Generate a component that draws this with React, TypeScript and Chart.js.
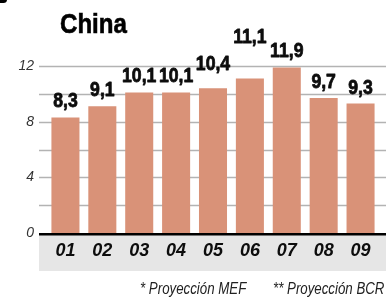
import React, { useEffect, useRef } from "react";
import { Chart, registerables } from "chart.js";

Chart.register(...registerables);

const categories = ["01", "02", "03", "04", "05", "06", "07", "08", "09"];
const growth = [8.3, 9.1, 10.1, 10.1, 10.4, 11.1, 11.9, 9.7, 9.3];
const valueLabels = ["8,3", "9,1", "10,1", "10,1", "10,4", "11,1", "11,9", "9,7", "9,3"];
const yTickLabels = [0, 4, 8, 12];
const title = "China";
const footnotes = ["* Proyección MEF", "** Proyección BCR"];

const SANS = "'Liberation Sans', Arial, Helvetica, sans-serif";
const BAR_COLOR = "#d99278";
const LABEL_LIFT = [0, 0, 0, 0, 8, 26, 0, 0, 0];

const backdrop = {
  id: "backdrop",
  beforeDraw(chart: any) {
    const { ctx, chartArea, scales } = chart;
    const y = scales.y;
    const left = chartArea.left - 8;
    const right = chartArea.right + 7;
    ctx.save();
    ctx.fillStyle = "#e6e6e6";
    ctx.fillRect(left, chartArea.bottom + 1, right - left, 37);
    ctx.strokeStyle = "#b3b3b3";
    ctx.lineWidth = 1.4;
    for (let v = 2; v <= 12; v += 2) {
      const py = Math.round(y.getPixelForValue(v)) + 0.5;
      ctx.beginPath();
      ctx.moveTo(left, py);
      ctx.lineTo(right, py);
      ctx.stroke();
    }
    ctx.restore();
  },
  afterDatasetsDraw(chart: any) {
    const { ctx, chartArea } = chart;
    const left = chartArea.left - 8;
    const right = chartArea.right + 7;
    ctx.save();
    ctx.fillStyle = "#000";
    ctx.fillRect(left, chartArea.bottom, right - left, 2.5);
    const meta = chart.getDatasetMeta(0);
    ctx.font = `bold 20.5px ${SANS}`;
    ctx.textAlign = "center";
    ctx.textBaseline = "alphabetic";
    ctx.fillStyle = "#0d0d0d";
    ctx.strokeStyle = "#0d0d0d";
    ctx.lineWidth = 0.8;
    ctx.lineJoin = "round";
    meta.data.forEach((bar: any, i: number) => {
      ctx.save();
      ctx.translate(bar.x, bar.y - 10 - LABEL_LIFT[i]);
      ctx.scale(0.86, 1);
      ctx.fillText(valueLabels[i], 0, 0);
      ctx.strokeText(valueLabels[i], 0, 0);
      ctx.restore();
    });
    ctx.restore();
  },
};

export default function App() {
  const ref = useRef<HTMLCanvasElement | null>(null);
  useEffect(() => {
    document.body.style.margin = "0";
    const chart = new Chart(ref.current as HTMLCanvasElement, {
      type: "bar",
      data: {
        labels: categories,
        datasets: [
          {
            data: growth,
            backgroundColor: BAR_COLOR,
            borderWidth: 0,
            barPercentage: 0.76,
            categoryPercentage: 1,
          },
        ],
      },
      options: {
        animation: false,
        responsive: false,
        devicePixelRatio: 1,
        layout: { padding: { top: 66, right: 8, bottom: 0, left: 0 } },
        plugins: { legend: { display: false }, tooltip: { enabled: false }, title: { display: false } },
        scales: {
          x: {
            grid: { display: false, drawTicks: false },
            border: { display: false },
            ticks: {
              color: "#0d0d0d",
              padding: 7,
              font: { family: SANS, size: 18, weight: "bold", style: "italic" },
              maxRotation: 0,
            },
            afterFit: (s: any) => {
              s.height = 66;
            },
          },
          y: {
            min: 0,
            max: 12,
            grid: { display: false, drawTicks: false },
            border: { display: false },
            afterBuildTicks: (s: any) => {
              s.ticks = yTickLabels.map((v) => ({ value: v }));
            },
            ticks: {
              color: "#333",
              padding: 13,
              font: { family: SANS, size: 14, style: "italic" },
            },
            afterFit: (s: any) => {
              s.width = 47;
            },
          },
        },
      },
      plugins: [backdrop],
    });
    return () => chart.destroy();
  }, []);

  const foot = {
    position: "absolute" as const,
    top: 281,
    fontFamily: SANS,
    fontStyle: "italic",
    fontSize: 16,
    lineHeight: "16px",
    color: "#222",
    whiteSpace: "nowrap" as const,
    transform: "scaleX(0.83)",
    transformOrigin: "left top",
  };

  return (
    <div style={{ position: "fixed", left: 0, top: 0, width: 387, height: 299, background: "#fff", overflow: "hidden" }}>
      <canvas ref={ref} width={387} height={299} style={{ position: "absolute", left: 0, top: 0 }} />
      <div style={{ position: "absolute", left: -4, top: -4, width: 11, height: 7, background: "#000", borderRadius: 4 }} />
      <div
        style={{
          position: "absolute",
          left: 60,
          top: 8.5,
          fontFamily: SANS,
          fontWeight: "bold",
          fontSize: 28,
          lineHeight: "29px",
          color: "#000",
          whiteSpace: "nowrap",
          transform: "scaleX(0.86)",
          transformOrigin: "left top",
          WebkitTextStroke: "0.6px #000",
        }}
      >
        {title}
      </div>
      <div style={{ ...foot, left: 140 }}>{footnotes[0]}</div>
      <div style={{ ...foot, left: 273 }}>{footnotes[1]}</div>
    </div>
  );
}
